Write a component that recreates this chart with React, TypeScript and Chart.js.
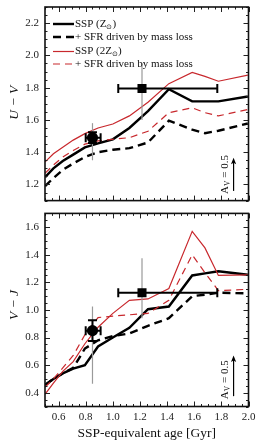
import React, { useEffect, useRef } from 'react';
import { Chart, registerables } from 'chart.js';

Chart.register(...registerables);

// ---------- data ----------
const AGES = [0.501, 0.562, 0.631, 0.708, 0.794, 0.891, 1.0, 1.122, 1.259, 1.413, 1.585, 1.679, 1.778, 1.995];

const UV_SSP_Z = [1.245, 1.3, 1.345, 1.385, 1.43, 1.455, 1.48, 1.55, 1.655, 1.79, 1.715, 1.715, 1.715, 1.745];
const UV_SFR_Z = [1.19, 1.24, 1.29, 1.33, 1.37, 1.4, 1.415, 1.425, 1.46, 1.595, 1.54, 1.518, 1.533, 1.578];
const UV_SSP_2Z = [1.34, 1.39, 1.43, 1.475, 1.515, 1.55, 1.575, 1.625, 1.71, 1.825, 1.895, 1.87, 1.84, 1.878];
const UV_SFR_2Z = [1.27, 1.32, 1.37, 1.41, 1.45, 1.47, 1.48, 1.49, 1.53, 1.645, 1.675, 1.645, 1.625, 1.665];

const VJ_SSP_Z = [0.457, 0.5, 0.54, 0.575, 0.6, 0.735, 0.8, 0.87, 1.005, 1.025, 1.25, 1.265, 1.28, 1.255];
const VJ_SFR_Z = [0.457, 0.5, 0.54, 0.58, 0.72, 0.78, 0.81, 0.83, 0.885, 0.94, 1.1, 1.11, 1.125, 1.12];
const VJ_SSP_2Z = [0.39, 0.47, 0.555, 0.625, 0.755, 0.875, 0.975, 1.07, 1.08, 1.155, 1.57, 1.45, 1.25, 1.255];
const VJ_SFR_2Z = [0.44, 0.5, 0.58, 0.67, 0.82, 0.945, 0.955, 0.965, 0.975, 1.07, 1.4, 1.27, 1.14, 1.15];

const OBS_AGE = [0.85, 1.215];
const OBS_AGE_LO = [0.8, 1.04];
const OBS_AGE_HI = [0.91, 1.77];
const OBS_UV = [1.49, 1.795];
const OBS_UV_ERR = [0.033, 0];
const OBS_UV_SYS_LO = [1.35, 1.6];
const OBS_UV_SYS_HI = [1.58, 1.95];
const OBS_VJ = [0.85, 1.125];
const OBS_VJ_ERR = [0.075, 0];
const OBS_VJ_SYS_LO = [0.465, 0.94];
const OBS_VJ_SYS_HI = [1.025, 1.375];
const OBS_MARKERS = ['circle', 'rect'];

const AV_AGE = 1.89;
const AV_UV = [1.16, 1.365];
const AV_VJ = [0.375, 0.67];

const LEGEND_LABELS = ['SSP (Z⊙)', '+ SFR driven by mass loss', 'SSP (2Z⊙)', '+ SFR driven by mass loss'];

const AGE_TICKS = [0.6, 0.8, 1.0, 1.2, 1.4, 1.6, 1.8, 2.0];
const UV_TICKS = [1.2, 1.4, 1.6, 1.8, 2.0, 2.2];
const VJ_TICKS = [0.4, 0.6, 0.8, 1.0, 1.2, 1.4, 1.6];

const AGE_RANGE = [0.5, 2.0];
const UV_RANGE = [1.1, 2.3];
const VJ_RANGE = [0.3, 1.7];

// ---------- styles ----------
const SERIF = '"Liberation Serif", "Times New Roman", serif';
const RED = '#c8282d';
const LINE_STYLES = [
  { color: '#000', width: 2.4, dash: [] as number[] },
  { color: '#000', width: 2.4, dash: [8, 5] },
  { color: RED, width: 1.2, dash: [] as number[] },
  { color: RED, width: 1.2, dash: [7, 5] },
];

function drawSubText(ctx: CanvasRenderingContext2D, text: string, x: number, y: number, size: number) {
  const parts = text.split('⊙');
  let cx = x;
  parts.forEach((p, i) => {
    ctx.font = `${size}px ${SERIF}`;
    ctx.fillText(p, cx, y);
    cx += ctx.measureText(p).width;
    if (i < parts.length - 1) {
      ctx.font = `${size * 0.68}px ${SERIF}`;
      ctx.fillText('⊙', cx, y + 3);
      cx += ctx.measureText('⊙').width;
    }
  });
}

function makeConfig(panel: 'uv' | 'vj'): any {
  const isTop = panel === 'uv';
  const series = isTop ? [UV_SSP_Z, UV_SFR_Z, UV_SSP_2Z, UV_SFR_2Z] : [VJ_SSP_Z, VJ_SFR_Z, VJ_SSP_2Z, VJ_SFR_2Z];
  const obs = isTop ? OBS_UV : OBS_VJ;
  const obsErr = isTop ? OBS_UV_ERR : OBS_VJ_ERR;
  const sysLo = isTop ? OBS_UV_SYS_LO : OBS_VJ_SYS_LO;
  const sysHi = isTop ? OBS_UV_SYS_HI : OBS_VJ_SYS_HI;
  const yTicks = isTop ? UV_TICKS : VJ_TICKS;
  const yRange = isTop ? UV_RANGE : VJ_RANGE;
  const av = isTop ? AV_UV : AV_VJ;

  const lineSets = series.map((s, i) => ({
    type: 'line',
    label: LEGEND_LABELS[i],
    data: AGES.map((a, j) => ({ x: a, y: s[j] })),
    borderColor: LINE_STYLES[i].color,
    borderWidth: LINE_STYLES[i].width,
    borderDash: LINE_STYLES[i].dash,
    pointRadius: 0,
    fill: false,
    tension: 0,
  }));
  const markerSet = {
    type: 'scatter',
    label: 'obs',
    data: OBS_AGE.map((a, i) => ({ x: a, y: obs[i] })),
    pointStyle: OBS_MARKERS,
    pointRadius: [5.6, 6.4],
    backgroundColor: '#000',
    borderColor: '#000',
    borderWidth: 0,
  };
  const datasets = [markerSet, ...lineSets.slice().reverse()];

  const plugin = {
    id: 'decor_' + panel,
    afterDatasetDraw(chart: any, args: any) {
      if (args.index !== 1) return;
      const { ctx } = chart;
      const x = chart.scales.x;
      const y = chart.scales.y;
      ctx.save();
      ctx.setLineDash([]);
      ctx.strokeStyle = '#9a9a9a';
      ctx.lineWidth = 1.2;
      OBS_AGE.forEach((a, i) => {
        const px = x.getPixelForValue(a);
        ctx.beginPath();
        ctx.moveTo(px, y.getPixelForValue(sysLo[i]));
        ctx.lineTo(px, y.getPixelForValue(sysHi[i]));
        ctx.stroke();
      });
      ctx.strokeStyle = '#000';
      ctx.lineWidth = 2;
      const cap = 4.5;
      OBS_AGE.forEach((a, i) => {
        const py = y.getPixelForValue(obs[i]);
        const x0 = x.getPixelForValue(OBS_AGE_LO[i]);
        const x1 = x.getPixelForValue(OBS_AGE_HI[i]);
        ctx.beginPath();
        ctx.moveTo(x0, py); ctx.lineTo(x1, py);
        ctx.moveTo(x0, py - cap); ctx.lineTo(x0, py + cap);
        ctx.moveTo(x1, py - cap); ctx.lineTo(x1, py + cap);
        if (obsErr[i] > 0) {
          const px = x.getPixelForValue(a);
          const y0 = y.getPixelForValue(obs[i] - obsErr[i]);
          const y1 = y.getPixelForValue(obs[i] + obsErr[i]);
          ctx.moveTo(px, y0); ctx.lineTo(px, y1);
          ctx.moveTo(px - cap, y0); ctx.lineTo(px + cap, y0);
          ctx.moveTo(px - cap, y1); ctx.lineTo(px + cap, y1);
        }
        ctx.stroke();
      });
      ctx.restore();
    },
    afterDraw(chart: any) {
      const { ctx, chartArea: a } = chart;
      const x = chart.scales.x;
      const y = chart.scales.y;
      ctx.save();
      ctx.setLineDash([]);
      ctx.strokeStyle = '#222';
      ctx.lineWidth = 1;
      ctx.beginPath();
      for (let k = 0; ; k++) {
        const v = AGE_RANGE[0] + k * 0.05;
        if (v > AGE_RANGE[1] + 1e-6) break;
        const major = Math.abs(v * 5 - Math.round(v * 5)) < 1e-6;
        const len = major ? 5 : 2.5;
        const px = Math.round(x.getPixelForValue(v)) + 0.5;
        ctx.moveTo(px, a.bottom); ctx.lineTo(px, a.bottom - len);
        ctx.moveTo(px, a.top); ctx.lineTo(px, a.top + len);
      }
      for (let k = 0; ; k++) {
        const v = yRange[0] + k * 0.05;
        if (v > yRange[1] + 1e-6) break;
        const major = Math.abs(v * 5 - Math.round(v * 5)) < 1e-6;
        const len = major ? 5 : 2.5;
        const py = Math.round(y.getPixelForValue(v)) + 0.5;
        ctx.moveTo(a.left, py); ctx.lineTo(a.left + len, py);
        ctx.moveTo(a.right, py); ctx.lineTo(a.right - len, py);
      }
      ctx.stroke();
      ctx.strokeStyle = '#111';
      ctx.lineWidth = 1.6;
      ctx.strokeRect(a.left, a.top, a.right - a.left, a.bottom - a.top);

      // reddening arrow
      const ax = x.getPixelForValue(AV_AGE);
      const ay0 = y.getPixelForValue(av[0]);
      const ay1 = y.getPixelForValue(av[1]);
      ctx.strokeStyle = '#000';
      ctx.fillStyle = '#000';
      ctx.lineWidth = 1.2;
      ctx.beginPath();
      ctx.moveTo(ax, ay0); ctx.lineTo(ax, ay1 + 3);
      ctx.stroke();
      ctx.beginPath();
      ctx.moveTo(ax, ay1);
      ctx.lineTo(ax - 2.6, ay1 + 6.5);
      ctx.lineTo(ax, ay1 + 5);
      ctx.lineTo(ax + 2.6, ay1 + 6.5);
      ctx.closePath();
      ctx.fill();
      ctx.save();
      ctx.translate(ax - 8, ay0 + 3);
      ctx.rotate(-Math.PI / 2);
      ctx.textBaseline = 'middle';
      ctx.textAlign = 'left';
      ctx.fillStyle = '#111';
      ctx.font = `11px ${SERIF}`;
      ctx.fillText('A', 0, 0);
      let w = ctx.measureText('A').width;
      ctx.font = `7.5px ${SERIF}`;
      ctx.fillText('V', w, 2.5);
      w += ctx.measureText('V').width;
      ctx.font = `11px ${SERIF}`;
      ctx.fillText(' = 0.5', w, 0);
      ctx.restore();

      // y-axis title
      ctx.save();
      ctx.fillStyle = '#111';
      ctx.translate(14, (a.top + a.bottom) / 2 - (isTop ? 1 : 5));
      ctx.rotate(-Math.PI / 2);
      ctx.textAlign = 'center';
      ctx.textBaseline = 'middle';
      ctx.font = `italic 13.5px ${SERIF}`;
      ctx.fillText(isTop ? 'U − V' : 'V − J', 0, 0);
      ctx.restore();

      if (!isTop) {
        ctx.fillStyle = '#111';
        ctx.textAlign = 'center';
        ctx.textBaseline = 'middle';
        ctx.font = `13.5px ${SERIF}`;
        ctx.fillText('SSP-equivalent age [Gyr]', (a.left + a.right) / 2, a.bottom + 27);
      }

      if (isTop) {
        const rows = [17, 30, 44.5, 57];
        LEGEND_LABELS.forEach((lab, i) => {
          const ry = a.top + rows[i];
          const st = LINE_STYLES[i];
          ctx.strokeStyle = st.color;
          ctx.lineWidth = st.width;
          ctx.setLineDash(st.dash);
          ctx.beginPath();
          ctx.moveTo(a.left + 8, ry);
          ctx.lineTo(a.left + 29, ry);
          ctx.stroke();
          ctx.setLineDash([]);
          ctx.fillStyle = '#111';
          ctx.textAlign = 'left';
          ctx.textBaseline = 'middle';
          drawSubText(ctx, lab, a.left + 30, ry, 11);
        });
      }
      ctx.restore();
    },
  };

  return {
    data: { datasets },
    options: {
      animation: false,
      responsive: true,
      maintainAspectRatio: false,
      layout: { padding: isTop ? { left: 0, right: 15.5, top: 7, bottom: 2 } : { left: 0, right: 15.5, top: 2.5, bottom: 0 } },
      plugins: { legend: { display: false }, tooltip: { enabled: false } },
      scales: {
        x: {
          type: 'linear',
          min: AGE_RANGE[0],
          max: AGE_RANGE[1],
          display: !isTop,
          afterBuildTicks: (s: any) => { s.ticks = AGE_TICKS.map((v) => ({ value: v })); },
          afterFit: (s: any) => {
            s.height = isTop ? 0 : 41.5;
            s.paddingLeft = 0; s.paddingRight = 0; s.paddingTop = 0; s.paddingBottom = 0;
          },
          grid: { display: false, drawTicks: false },
          border: { display: false },
          ticks: {
            padding: 4,
            maxRotation: 0,
            autoSkip: false,
            color: '#222',
            font: { family: SERIF, size: 11 },
            callback: (v: any) => Number(v).toFixed(1),
          },
        },
        y: {
          type: 'linear',
          min: yRange[0],
          max: yRange[1],
          afterBuildTicks: (s: any) => { s.ticks = yTicks.map((v) => ({ value: v })); },
          afterFit: (s: any) => {
            s.width = 45;
            s.paddingLeft = 0; s.paddingRight = 0; s.paddingTop = 0; s.paddingBottom = 0;
          },
          grid: { display: false, drawTicks: false },
          border: { display: false },
          ticks: {
            padding: 6,
            autoSkip: false,
            color: '#222',
            font: { family: SERIF, size: 11 },
            callback: (v: any) => Number(v).toFixed(1),
          },
        },
      },
    },
    plugins: [plugin],
  };
}

export default function App() {
  const topRef = useRef<HTMLCanvasElement>(null);
  const botRef = useRef<HTMLCanvasElement>(null);
  useEffect(() => {
    const c1 = new Chart(topRef.current as HTMLCanvasElement, makeConfig('uv'));
    const c2 = new Chart(botRef.current as HTMLCanvasElement, makeConfig('vj'));
    return () => {
      c1.destroy();
      c2.destroy();
    };
  }, []);
  return (
    <div style={{ position: 'fixed', left: 0, top: 0, width: 264, height: 448, background: '#fff' }}>
      <div style={{ position: 'absolute', left: 0, top: 0, width: 264, height: 207 }}>
        <canvas ref={topRef} />
      </div>
      <div style={{ position: 'absolute', left: 0, top: 207, width: 264, height: 241 }}>
        <canvas ref={botRef} />
      </div>
    </div>
  );
}
